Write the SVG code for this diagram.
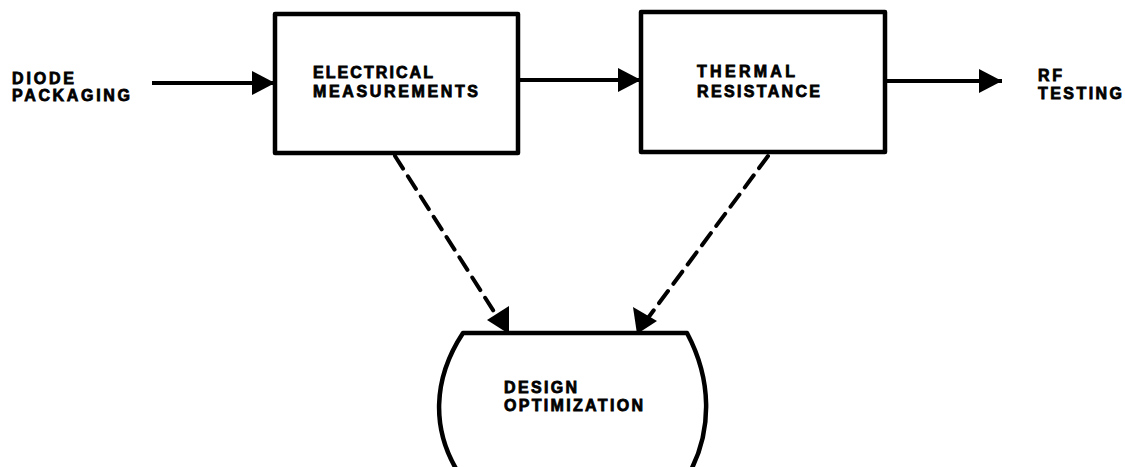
<svg xmlns="http://www.w3.org/2000/svg" width="1125" height="467" viewBox="0 0 1125 467">
<style>
.t{font-family:"Liberation Sans",Arial,sans-serif;font-weight:bold;font-size:16px;fill:#000;stroke:#000;stroke-width:0.8}
.box{fill:#fff;stroke:#000;stroke-width:4.5;stroke-linejoin:round}
.ln{fill:none;stroke:#000;stroke-width:4}
.dash{fill:none;stroke:#000;stroke-width:4;stroke-dasharray:15 9;stroke-linecap:round}
</style>
<defs>
<marker id="ah" markerUnits="userSpaceOnUse" markerWidth="24" markerHeight="26" viewBox="0 0 24 26" refX="23" refY="13" orient="auto">
<path d="M0,1 L23,13 L0,25 Z" fill="#000"/>
</marker>
</defs>
<g id="connectors">
<line class="ln" x1="152" y1="83" x2="275" y2="83" marker-end="url(#ah)"/>
<line class="ln" x1="518" y1="80" x2="641" y2="80" marker-end="url(#ah)"/>
<line class="ln" x1="885" y1="81" x2="1002" y2="81" marker-end="url(#ah)"/>
<line class="dash" x1="395" y1="156" x2="498" y2="318"/>
<path d="M509,334 L487,320 L509,306 Z" fill="#000"/>
<line class="dash" x1="768" y1="156" x2="648" y2="318"/>
<path d="M637,334 L633,307 L657,321 Z" fill="#000"/>
</g>
<g id="diode">
<text class="t" x="12" y="84" textLength="62" lengthAdjust="spacing">DIODE</text>
<text class="t" x="12" y="101" textLength="118" lengthAdjust="spacing">PACKAGING</text>
</g>
<g id="electrical">
<rect class="box" x="275" y="14" width="243" height="139"/>
<text class="t" x="313" y="78" textLength="120" lengthAdjust="spacing">ELECTRICAL</text>
<text class="t" x="313" y="97" textLength="165" lengthAdjust="spacing">MEASUREMENTS</text>
</g>
<g id="thermal">
<rect class="box" x="641" y="12" width="244" height="140"/>
<text class="t" x="697" y="77" textLength="98" lengthAdjust="spacing">THERMAL</text>
<text class="t" x="697" y="97" textLength="123" lengthAdjust="spacing">RESISTANCE</text>
</g>
<g id="rf">
<text class="t" x="1038" y="81" textLength="24" lengthAdjust="spacing">RF</text>
<text class="t" x="1038" y="99" textLength="84" lengthAdjust="spacing">TESTING</text>
</g>
<g id="design">
<path class="box" d="M463,333 L687,333 C712,380 712,430 690,472 L458,472 C432,430 432,380 463,333 Z"/>
<text class="t" x="504" y="393" textLength="73" lengthAdjust="spacing">DESIGN</text>
<text class="t" x="504" y="411" textLength="139" lengthAdjust="spacing">OPTIMIZATION</text>
</g>
</svg>
